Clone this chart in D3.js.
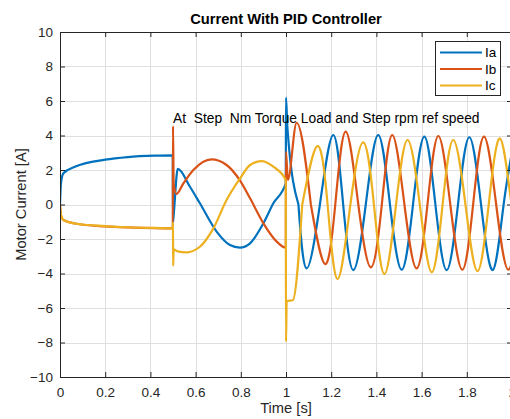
<!DOCTYPE html>
<html>
<head>
<meta charset="utf-8">
<script src="https://cdn.jsdelivr.net/npm/d3@7"></script>
<style>
    body { margin: 0; background: #ffffff; }
    text { font-family: "Liberation Sans", Arial, Helvetica, sans-serif; }
</style>
</head>
<body>
<script>
// Données : [temps (s), courant (A)]
const phaseA = [
    [0, 0], [0.004, 1.2], [0.015, 1.81], [0.066, 2.19], [0.2, 2.6], [0.3, 2.75], [0.42, 2.83], [0.499, 2.85],
    [0.5, -1.0], [0.503, -0.6], [0.521, 2.06], [0.575, 1.03], [0.619, 0.07], [0.693, -1.57], [0.752, -2.35],
    [0.796, -2.5], [0.841, -2.25], [0.9, -1.09], [0.944, 0.07], [0.999, 1.23],
    [1.0, 6.2], [1.006, 4.5], [1.055, 0], [1.091, -3.7], [1.15, 0], [1.209, 4.03], [1.253, 0], [1.298, -3.8],
    [1.353, 0], [1.408, 4.03], [1.46, 0], [1.512, -3.78], [1.562, 0], [1.612, 3.93], [1.661, 0], [1.711, -3.8],
    [1.761, 0], [1.811, 3.9], [1.863, 0], [1.915, -3.8], [1.963, 0], [2.012, 3.9]
]

const phaseB = [
    [0, 0], [0.004, -0.6], [0.015, -0.9], [0.066, -1.1], [0.2, -1.27], [0.3, -1.33], [0.42, -1.37], [0.499, -1.38],
    [0.5, 4.55], [0.503, 1.2], [0.515, 0.61], [0.546, 1.23], [0.59, 2.0], [0.67, 2.62], [0.737, 2.29],
    [0.796, 1.4], [0.841, 0.36], [0.9, -1.09], [0.959, -2.15], [0.999, -2.5],
    [1.0, 3.06], [1.008, 1.42], [1.047, 4.74], [1.11, 0], [1.173, -3.45], [1.218, 0], [1.264, 4.22], [1.32, 0],
    [1.376, -3.64], [1.424, 0], [1.47, 4.03], [1.524, 0], [1.578, -3.7], [1.626, 0], [1.674, 3.97], [1.727, 0],
    [1.78, -3.78], [1.828, 0], [1.876, 3.93], [1.93, 0], [1.984, -3.78], [2.035, 0]
]

const phaseC = [
    [0, 0], [0.004, -0.6], [0.015, -0.9], [0.066, -1.1], [0.2, -1.25], [0.3, -1.32], [0.42, -1.36], [0.499, -1.38],
    [0.5, -1.05], [0.5005, -3.55], [0.503, -2.6], [0.52, -2.72], [0.56, -2.77], [0.619, -2.45], [0.678, -1.4],
    [0.737, 0.26], [0.796, 1.5], [0.841, 2.29], [0.892, 2.52], [0.944, 2.19], [0.999, 1.42],
    [1.0, -7.95], [1.003, -5.6], [1.03, -5.55], [1.072, 0], [1.139, 3.39], [1.184, 0], [1.228, -4.32], [1.285, 0],
    [1.342, 3.6], [1.389, 0], [1.435, -4.03], [1.487, 0], [1.538, 3.74], [1.592, 0], [1.645, -3.93], [1.693, 0],
    [1.74, 3.74], [1.794, 0], [1.847, -3.86], [1.897, 0], [1.947, 3.83], [1.998, 0], [2.05, -3.86]
]

const seriesNames = ['Ia', 'Ib', 'Ic']
const seriesColors = ['#0072BD', '#D95319', '#EDB120']
const xTicks = [0, 0.2, 0.4, 0.6, 0.8, 1, 1.2, 1.4, 1.6, 1.8, 2]
const yTicks = [-10, -8, -6, -4, -2, 0, 2, 4, 6, 8, 10]

const title = 'Current With PID Controller'
const xLabel = 'Time [s]'
const yLabel = 'Motor Current [A]'
const note = 'At  Step  Nm Torque Load and Step rpm ref speed'

// Dimensions
const width = 510, height = 419
const plot = { left: 60, right: 512, top: 32, bottom: 377 }
const axisColor = '#262626'

const svg = d3.select('body').append('svg')
    .attr('width', width)
    .attr('height', height)

const x = d3.scaleLinear().domain([0, 2]).range([plot.left, plot.right])
const y = d3.scaleLinear().domain([-10, 10]).range([plot.bottom, plot.top])

// Grille
const grid = svg.append('g').attr('stroke', '#dfdfdf').attr('stroke-width', 1)
grid.selectAll('.gx')
    .data(xTicks)
    .join('line')
    .attr('x1', d => Math.round(x(d)) + 0.5)
    .attr('x2', d => Math.round(x(d)) + 0.5)
    .attr('y1', plot.top)
    .attr('y2', plot.bottom)
grid.selectAll('.gy')
    .data(yTicks)
    .join('line')
    .attr('x1', plot.left)
    .attr('x2', plot.right)
    .attr('y1', d => Math.round(y(d)) + 0.5)
    .attr('y2', d => Math.round(y(d)) + 0.5)

// Courbes
svg.append('clipPath').attr('id', 'clip')
    .append('rect')
    .attr('x', plot.left)
    .attr('y', plot.top)
    .attr('width', plot.right - plot.left)
    .attr('height', plot.bottom - plot.top)

// transitoire : monotone (pas de dépassement aux échelons), régime établi : spline naturelle (forme sinus)
const lineTransient = d3.line()
    .x(d => x(d[0]))
    .y(d => y(d[1]))
    .curve(d3.curveMonotoneX)

const lineSteady = d3.line()
    .x(d => x(d[0]))
    .y(d => y(d[1]))
    .curve(d3.curveNatural)

const curves = svg.append('g').attr('clip-path', 'url(#clip)')

;[phaseA, phaseB, phaseC].forEach((serie, i) => {
    // coupe au premier passage par zéro après l'échelon de 1 s
    const k = serie.findIndex(d => d[0] > 1.04 && d[1] === 0)
    const path = lineTransient(serie.slice(0, k + 1)) + lineSteady(serie.slice(k)).replace(/^M[^LC]*/, '')
    curves.append('path')
        .attr('d', path)
        .attr('fill', 'none')
        .attr('stroke', seriesColors[i])
        .attr('stroke-width', 2.2)
        .attr('stroke-linejoin', 'round')
})

// Axes (ticks vers l'intérieur, boîte complète)
const styleAxis = g => {
    g.select('.domain').attr('stroke', axisColor)
    g.selectAll('.tick line').attr('stroke', axisColor)
    g.selectAll('.tick text')
        .attr('fill', axisColor)
        .style('font-size', '13.5px')
        .style('font-family', '"Liberation Sans", Arial, sans-serif')
}

svg.append('g')
    .attr('transform', `translate(0, ${plot.bottom})`)
    .call(d3.axisBottom(x).tickValues(xTicks).tickFormat(d3.format('~g')).tickSizeInner(-5).tickSizeOuter(0).tickPadding(10))
    .call(styleAxis)

svg.append('g')
    .attr('transform', `translate(${plot.left}, 0)`)
    .call(d3.axisLeft(y).tickValues(yTicks).tickSizeInner(-5).tickSizeOuter(0).tickPadding(7))
    .call(styleAxis)

svg.append('g')
    .attr('transform', `translate(0, ${plot.top})`)
    .call(d3.axisTop(x).tickValues(xTicks).tickFormat('').tickSizeInner(-5).tickSizeOuter(0))
    .call(styleAxis)

svg.append('g')
    .attr('transform', `translate(${plot.right}, 0)`)
    .call(d3.axisRight(y).tickValues(yTicks).tickFormat('').tickSizeInner(-5).tickSizeOuter(0))
    .call(styleAxis)

// Titre et libellés
svg.append('text')
    .attr('x', (plot.left + plot.right) / 2)
    .attr('y', 24)
    .attr('text-anchor', 'middle')
    .attr('font-weight', 'bold')
    .attr('font-size', '14.7px')
    .attr('fill', '#000000')
    .text(title)

svg.append('text')
    .attr('x', (plot.left + plot.right) / 2)
    .attr('y', 413)
    .attr('text-anchor', 'middle')
    .attr('font-size', '14.7px')
    .attr('fill', axisColor)
    .text(xLabel)

svg.append('text')
    .attr('transform', `translate(25.5, ${(plot.top + plot.bottom) / 2}) rotate(-90)`)
    .attr('text-anchor', 'middle')
    .attr('font-size', '14.7px')
    .attr('fill', axisColor)
    .text(yLabel)

// Annotation
svg.append('text')
    .attr('x', x(0.5))
    .attr('y', y(4.74))
    .attr('font-size', '13.8px')
    .attr('fill', '#000000')
    .style('white-space', 'pre')
    .text(note)

// Légende
const legend = svg.append('g')
legend.append('rect')
    .attr('x', 435.5)
    .attr('y', 41.5)
    .attr('width', 65)
    .attr('height', 54)
    .attr('fill', '#ffffff')
    .attr('stroke', axisColor)
    .attr('stroke-width', 1)

seriesNames.forEach((name, i) => {
    const ly = 52.5 + i * 16.5
    legend.append('line')
        .attr('x1', 440)
        .attr('x2', 482)
        .attr('y1', ly)
        .attr('y2', ly)
        .attr('stroke', seriesColors[i])
        .attr('stroke-width', 2.2)
    legend.append('text')
        .attr('x', 485)
        .attr('y', ly + 4.5)
        .attr('font-size', '13.5px')
        .attr('fill', '#000000')
        .text(name)
})
</script>
</body>
</html>
